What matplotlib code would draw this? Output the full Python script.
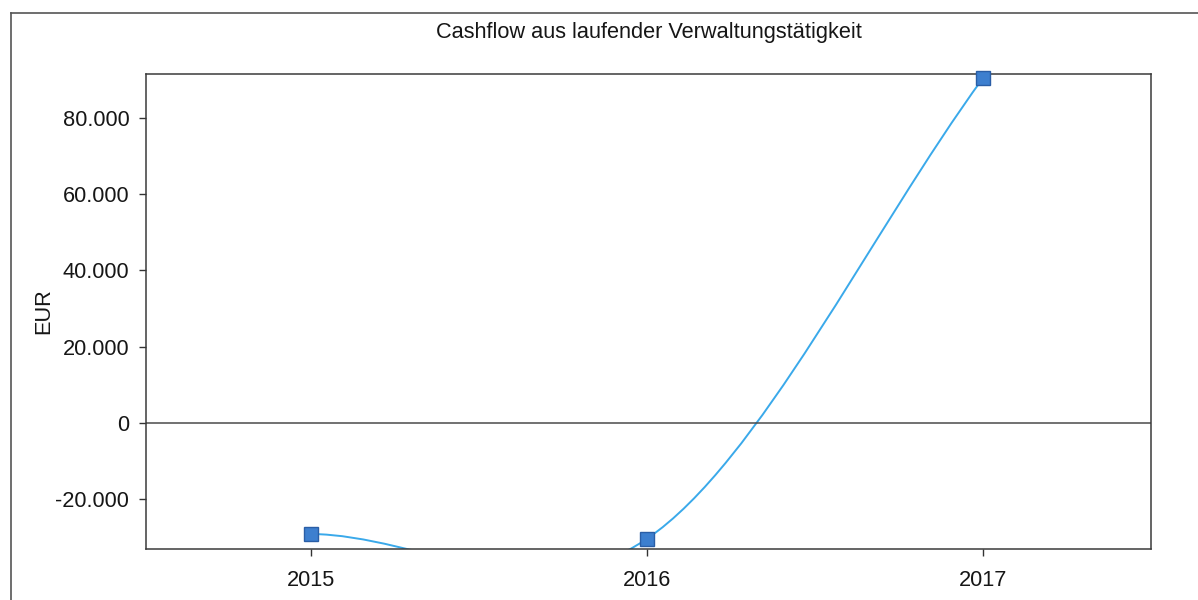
import matplotlib
matplotlib.use("Agg")
import matplotlib.pyplot as plt
from matplotlib.path import Path
from matplotlib.patches import PathPatch
from matplotlib.ticker import FuncFormatter
from matplotlib.lines import Line2D

plt.rcParams['font.family'] = ['Liberation Sans', 'DejaVu Sans']

# data (EUR)
years = [2015, 2016, 2017]
cashflow = [-29200, -30500, 90500]
yticks = [-20000, 0, 20000, 40000, 60000, 80000]

title = "Cashflow aus laufender Verwaltungstätigkeit"
line_color = '#3aa9ea'
marker_face = '#3d7fcf'
marker_edge = '#2a5ea6'
text_color = '#161616'


def smooth_path(xs, ys):
    # cubic bezier segments with catmull-rom style tangents
    n = len(xs)
    verts = [(xs[0], ys[0])]
    codes = [Path.MOVETO]
    for i in range(n - 1):
        i0 = max(i - 1, 0)
        i3 = min(i + 2, n - 1)
        d = xs[i + 1] - xs[i]
        if i == 0:
            m0 = (ys[1] - ys[0]) / (xs[1] - xs[0])
        else:
            m0 = (ys[i + 1] - ys[i0]) / (xs[i + 1] - xs[i0])
        if i + 1 == n - 1:
            m1 = (ys[i + 1] - ys[i]) / d
        else:
            m1 = (ys[i3] - ys[i]) / (xs[i3] - xs[i])
        verts += [(xs[i] + d / 3, ys[i] + m0 * d / 3),
                  (xs[i + 1] - d / 3, ys[i + 1] - m1 * d / 3),
                  (xs[i + 1], ys[i + 1])]
        codes += [Path.CURVE4] * 3
    return Path(verts, codes)


fig = plt.figure(figsize=(11.98, 6.0), dpi=100)
ax = fig.add_axes([0.1219, 0.085, 0.8389, 0.7917])

ax.add_patch(PathPatch(smooth_path(years, cashflow), fill=False,
                       edgecolor=line_color, lw=1.4))
ax.plot(years, cashflow, linestyle='none', marker='s', markersize=10.5,
        markerfacecolor=marker_face, markeredgecolor=marker_edge,
        markeredgewidth=1.0, clip_on=False, zorder=5)

ax.axhline(0, color='#4a4a4a', lw=1.1, zorder=1)

ax.set_xlim(2014.51, 2017.5)
ax.set_ylim(-33160, 91580)
ax.set_xticks(years)
ax.set_xticklabels([str(y) for y in years])
ax.set_yticks(yticks)
ax.yaxis.set_major_formatter(FuncFormatter(lambda v, p: f"{int(v):,}".replace(",", ".")))

for s in ax.spines.values():
    s.set_color('#3a3a3a')
    s.set_linewidth(1.1)
ax.tick_params(axis='both', labelsize=15.7, colors='#333333', labelcolor=text_color,
               length=5, width=1)
ax.tick_params(axis='x', pad=10)
ax.tick_params(axis='y', pad=7)

ax.set_ylabel("EUR", fontsize=15.7, color=text_color, labelpad=1)
ax.set_title(title, fontsize=15.7, color=text_color, pad=26)

# outer frame of the chart control (left and top edges only visible)
fig.add_artist(Line2D([0.0095, 0.0095], [0.0, 0.978], color='#555555', lw=1.2))
fig.add_artist(Line2D([0.0095, 1.0], [0.978, 0.978], color='#555555', lw=1.2))

fig.savefig("out.png", dpi=100)
